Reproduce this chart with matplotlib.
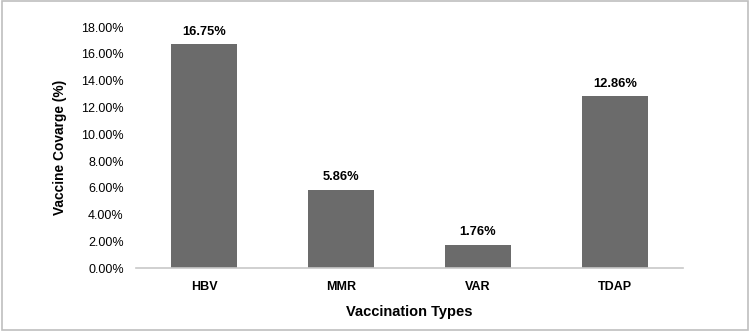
import matplotlib
matplotlib.use("Agg")
import matplotlib.pyplot as plt
from matplotlib.patches import Rectangle
from matplotlib.ticker import FuncFormatter

vaccines = ["HBV", "MMR", "VAR", "TDAP"]
coverage = [16.75, 5.86, 1.76, 12.86]

plt.rcParams["font.family"] = ["Liberation Sans", "DejaVu Sans"]

fig = plt.figure(figsize=(7.5, 3.31), dpi=100)
ax = fig.add_axes([0.1807, 0.190, 0.7306, 0.728])

bars = ax.bar(vaccines, coverage, width=0.48, color="#6b6b6b")
ax.bar_label(bars, labels=[f"{v:.2f}%" for v in coverage], padding=4.5,
             fontsize=9.3, fontweight="bold")

ax.set_xlim(-0.5, len(vaccines) - 0.5)
ax.set_ylim(0, 18)
ax.set_yticks(range(0, 19, 2))
ax.yaxis.set_major_formatter(FuncFormatter(lambda v, _: f"{v:.2f}%"))

for side in ["top", "right", "left"]:
    ax.spines[side].set_visible(False)
ax.spines["bottom"].set_color("#c8c8c8")
ax.spines["bottom"].set_linewidth(1.2)
ax.tick_params(axis="both", length=0, labelsize=9)
ax.tick_params(axis="y", pad=8.5)
ax.tick_params(axis="x", pad=9)
for lbl in ax.get_xticklabels():
    lbl.set_fontweight("bold")

ax.set_xlabel("Vaccination Types", fontsize=10.5, fontweight="bold", labelpad=9)
ax.set_ylabel("Vaccine Covarge (%)", fontsize=9.9, fontweight="bold", labelpad=10)

# outer frame
fig.patches.append(Rectangle((0.002, 0.003), 0.995, 0.994, transform=fig.transFigure,
                             fill=False, edgecolor="#bfbfbf", linewidth=1.2))

fig.savefig("out.png", dpi=100)
